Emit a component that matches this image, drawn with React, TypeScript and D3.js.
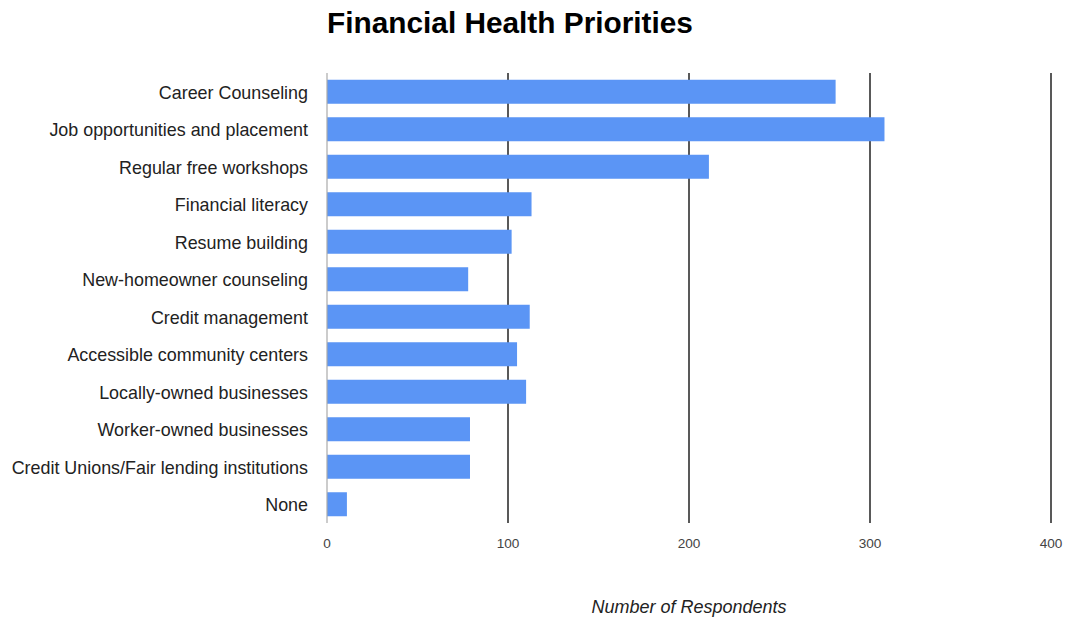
import React from "react";
import * as d3 from "d3";

const categories = [
  "Career Counseling",
  "Job opportunities and placement",
  "Regular free workshops",
  "Financial literacy",
  "Resume building",
  "New-homeowner counseling",
  "Credit management",
  "Accessible community centers",
  "Locally-owned businesses",
  "Worker-owned businesses",
  "Credit Unions/Fair lending institutions",
  "None",
];
const values = [281, 308, 211, 113, 102, 78, 112, 105, 110, 79, 79, 11];
const xTicks = [0, 100, 200, 300, 400];
const title = "Financial Health Priorities";
const xTitle = "Number of Respondents";

const W = 1065;
const H = 617;
const left = 327;
const right = 1051;
const top = 73;
const bottom = 523;

export default function App() {
  const x = d3.scaleLinear().domain([0, 400]).range([left, right]);
  const y = d3
    .scaleBand<string>()
    .domain(categories)
    .range([top, bottom])
    .paddingInner(0.36)
    .paddingOuter(0.18);
  const font = "Arial, 'Liberation Sans', Helvetica, sans-serif";
  return (
    <svg
      width={W}
      height={H}
      style={{ position: "absolute", left: 0, top: 0, background: "#fff" }}
      fontFamily={font}
    >
      <text x={left} y={33} fontSize={29.8} fontWeight="bold" fill="#000">
        {title}
      </text>
      {xTicks.map((t) =>
        t === 0 ? null : (
          <line
            key={"g" + t}
            x1={x(t)}
            x2={x(t)}
            y1={top}
            y2={bottom}
            stroke="#222"
            strokeWidth={1.5}
          />
        )
      )}
      {categories.map((c, i) => (
        <rect
          key={c}
          x={x(0)}
          y={y(c)}
          width={x(values[i]) - x(0)}
          height={y.bandwidth()}
          fill="#5B95F5"
        />
      ))}
      <line x1={x(0)} x2={x(0)} y1={top} y2={bottom} stroke="#aaa" strokeWidth={1.2} />
      {categories.map((c) => (
        <text
          key={"l" + c}
          x={308}
          y={(y(c) as number) + y.bandwidth() / 2 + 0.5}
          dy="0.35em"
          textAnchor="end"
          fontSize={17.9}
          fill="#222"
        >
          {c}
        </text>
      ))}
      {xTicks.map((t) => (
        <text
          key={"t" + t}
          x={x(t)}
          y={543}
          dy="0.35em"
          textAnchor="middle"
          fontSize={13.6}
          fill="#444"
        >
          {t}
        </text>
      ))}
      <text
        x={689}
        y={607}
        dy="0.35em"
        textAnchor="middle"
        fontSize={18}
        fontStyle="italic"
        fill="#222"
      >
        {xTitle}
      </text>
    </svg>
  );
}
